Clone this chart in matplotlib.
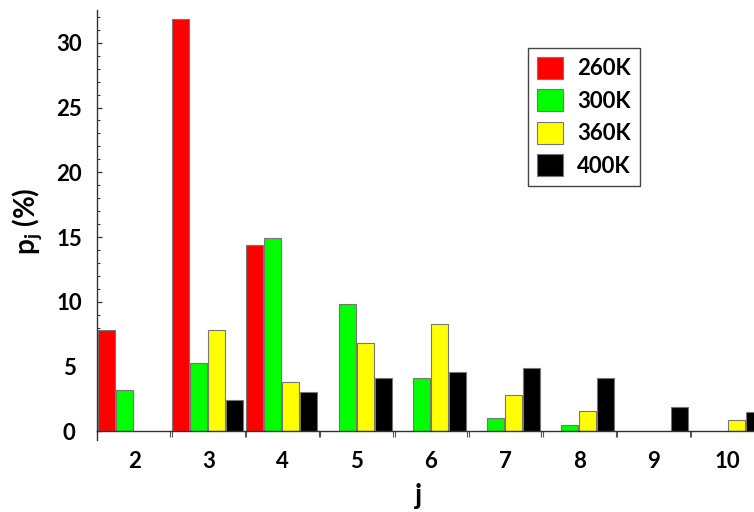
import numpy as np
import matplotlib
matplotlib.use("Agg")
import matplotlib.pyplot as plt
from matplotlib.lines import Line2D
from matplotlib.ticker import MultipleLocator, FixedLocator

plt.rcParams['font.family'] = ['Lato', 'DejaVu Sans']
plt.rcParams['font.weight'] = 'bold'
plt.rcParams['mathtext.fontset'] = 'custom'
plt.rcParams['mathtext.rm'] = 'Lato:bold'
plt.rcParams['mathtext.bf'] = 'Lato:bold'
plt.rcParams['mathtext.it'] = 'Lato:bold'

# cluster size j and probability p_j (%) at each temperature
j_values = [2, 3, 4, 5, 6, 7, 8, 9, 10]
p_260K = [7.8, 31.8, 14.4, 0, 0, 0, 0, 0, 0]
p_300K = [3.2, 5.3, 14.9, 9.8, 4.1, 1.0, 0.5, 0, 0]
p_360K = [0, 7.8, 3.8, 6.8, 8.3, 2.8, 1.6, 0, 0.9]
p_400K = [0, 2.4, 3.0, 4.1, 4.6, 4.9, 4.1, 1.9, 1.5]

series = [("260K", p_260K, "#ff0000"),
          ("300K", p_300K, "#00ff00"),
          ("360K", p_360K, "#ffff00"),
          ("400K", p_400K, "#000000")]

W, H = 754, 512
fig = plt.figure(figsize=(W / 100, H / 100), dpi=100)
ax_left, ax_bottom = 97, 431.3
cat_px = 74.2
n_cat = len(j_values)
ax = fig.add_axes([ax_left / W, (H - ax_bottom) / H,
                   n_cat * cat_px / W, (ax_bottom - 10) / H])

slot = 0.2426
bar_w = 0.229
offset = 0.013
idx = np.arange(n_cat)
handles = []
for s, (label, vals, color) in enumerate(series):
    vals = np.asarray(vals, dtype=float)
    keep = vals > 0
    bars = ax.bar(idx[keep] + offset + s * slot, vals[keep], width=bar_w,
                  align='edge', color=color, edgecolor='#777777', linewidth=0.8,
                  label=label, zorder=2)
    handles.append(bars)

ax.set_xlim(0, n_cat)
ax.set_ylim(0, 32.53)

# y axis: inward ticks, major every 5, minor every 1
ax.yaxis.set_major_locator(MultipleLocator(5))
ax.yaxis.set_minor_locator(MultipleLocator(1))
ax.tick_params(axis='y', which='major', direction='in', length=3.5, width=0.9,
               pad=20, labelsize=16, colors='#333333', labelcolor='black')
ax.tick_params(axis='y', which='minor', direction='in', length=2.3, width=0.8,
               colors='#333333')
for t in ax.get_yticklabels():
    t.set_ha('center')
    t.set_fontweight('bold')

# x axis: labels at category centres, double tick marks at boundaries
ax.xaxis.set_major_locator(FixedLocator(idx + 0.5))
ax.set_xticklabels([str(v) for v in j_values], fontsize=16, fontweight='bold')
bounds = []
for b in range(1, n_cat + 1):
    bounds += [b - 0.012, b + 0.012]
ax.xaxis.set_minor_locator(FixedLocator(bounds))
ax.tick_params(axis='x', which='major', length=0, pad=14)
ax.tick_params(axis='x', which='minor', direction='out', length=4, width=0.8,
               colors='#555555')

for side in ('top', 'right'):
    ax.spines[side].set_visible(False)
for side in ('left', 'bottom'):
    ax.spines[side].set_color('#333333')
    ax.spines[side].set_linewidth(1.0)

# left axis line continues a little below the baseline
fig.add_artist(Line2D([ax_left / W, ax_left / W],
                      [(H - ax_bottom) / H, (H - 440) / H],
                      color='#333333', lw=1.0))

fig.text(27 / W, 1 - 221 / H, r'$\mathbf{p}_\mathbf{j}$ (%)', rotation=90,
         ha='center', va='center', fontsize=20, fontweight='bold')
fig.text(419 / W, 1 - 496 / H, 'j', ha='center', va='center',
         fontsize=20, fontweight='bold')

leg = ax.legend(handles=handles, loc='upper left',
                bbox_to_anchor=(527.7 / W, 1 - 47.7 / H),
                bbox_transform=fig.transFigure, borderaxespad=0,
                prop={'size': 16, 'weight': 'bold'},
                handlelength=1.17, handleheight=1.13, labelspacing=0.45,
                handletextpad=0.62, borderpad=0.42, fancybox=False,
                framealpha=1, edgecolor='#444444')
leg.get_frame().set_linewidth(1.0)

fig.savefig("out.png", dpi=100)
